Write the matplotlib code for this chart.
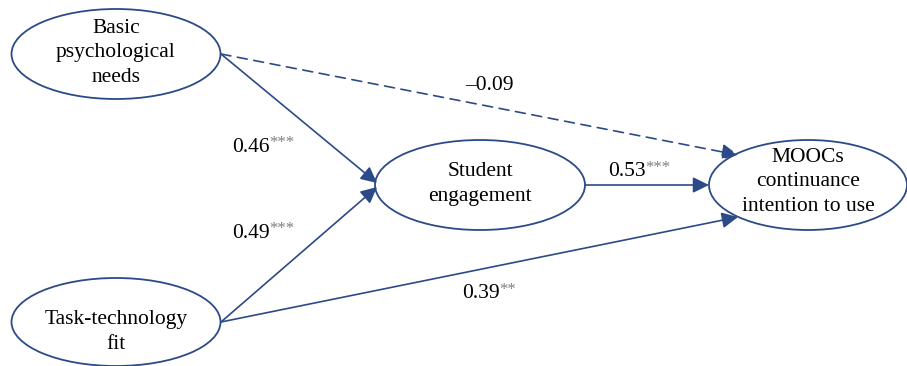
import matplotlib.pyplot as plt
from matplotlib.patches import Ellipse, FancyArrowPatch

# constructs in the path model
node_names = ["bpn", "ttf", "se", "mooc"]
node_labels = [
    "Basic\npsychological\nneeds",
    "Task-technology\nfit",
    "Student\nengagement",
    "MOOCs\ncontinuance\nintention to use",
]

# structural paths: source, target, coefficient, significance stars
path_src = ["bpn", "ttf", "bpn", "se", "ttf"]
path_dst = ["se", "se", "mooc", "mooc", "mooc"]
path_coef = [0.46, 0.49, -0.09, 0.53, 0.39]
path_sig = ["***", "***", "", "***", "**"]

# layout (pixel coordinates, y downwards)
NODE_POS = {"bpn": (116, 54), "ttf": (116, 322), "se": (480, 185), "mooc": (808, 185)}
NODE_SIZE = {"bpn": (209, 90), "ttf": (209, 88), "se": (210, 90), "mooc": (198, 90)}
TEXT_POS = {"bpn": (116, 53), "ttf": (116, 332), "se": (480, 184), "mooc": (808, 182)}
PATH_ENDS = [
    ((221, 54), (377, 183)),
    ((221, 322), (377, 187)),
    ((221, 54), (738, 155)),
    ((585, 185), (709, 185)),
    ((221, 322), (738, 217)),
]
LABEL_POS = [(232, 147), (232, 233), (465, 85), (608, 172), (462, 294)]

NAVY = "#2c4a87"
STAR = "#808080"
FONT = "Liberation Serif"

fig = plt.figure(figsize=(9.07, 3.66), dpi=100)
ax = fig.add_axes([0, 0, 1, 1])
ax.set_xlim(0, 907)
ax.set_ylim(366, 0)
ax.axis("off")

for name, label in zip(node_names, node_labels):
    w, h = NODE_SIZE[name]
    ax.add_patch(Ellipse(NODE_POS[name], w, h, facecolor="white",
                         edgecolor=NAVY, linewidth=1.3, zorder=2))
    ax.text(*TEXT_POS[name], label, ha="center", va="center",
            fontsize=15.5, family=FONT, linespacing=1.4, zorder=3)

for (p0, p1), coef, sig, lpos in zip(PATH_ENDS, path_coef, path_sig, LABEL_POS):
    dashed = sig == ""
    arr = FancyArrowPatch(p0, p1, arrowstyle="-|>,head_length=6.5,head_width=3.2",
                          color=NAVY, linewidth=1.2, shrinkA=0, shrinkB=0,
                          linestyle=(0, (6, 4)) if dashed else "-",
                          mutation_scale=1.5, zorder=4)
    ax.add_patch(arr)

    txt = f"{coef:.2f}".replace("-", "\u2013")
    t = ax.text(*lpos, txt, ha="left", va="center", fontsize=15.5,
                family=FONT, zorder=5)
    if sig:
        ax.annotate(sig, xy=(1, 0.3), xycoords=t, ha="left", va="bottom",
                    fontsize=12, family=FONT, color=STAR, zorder=5)

fig.savefig("out.png", dpi=100)
